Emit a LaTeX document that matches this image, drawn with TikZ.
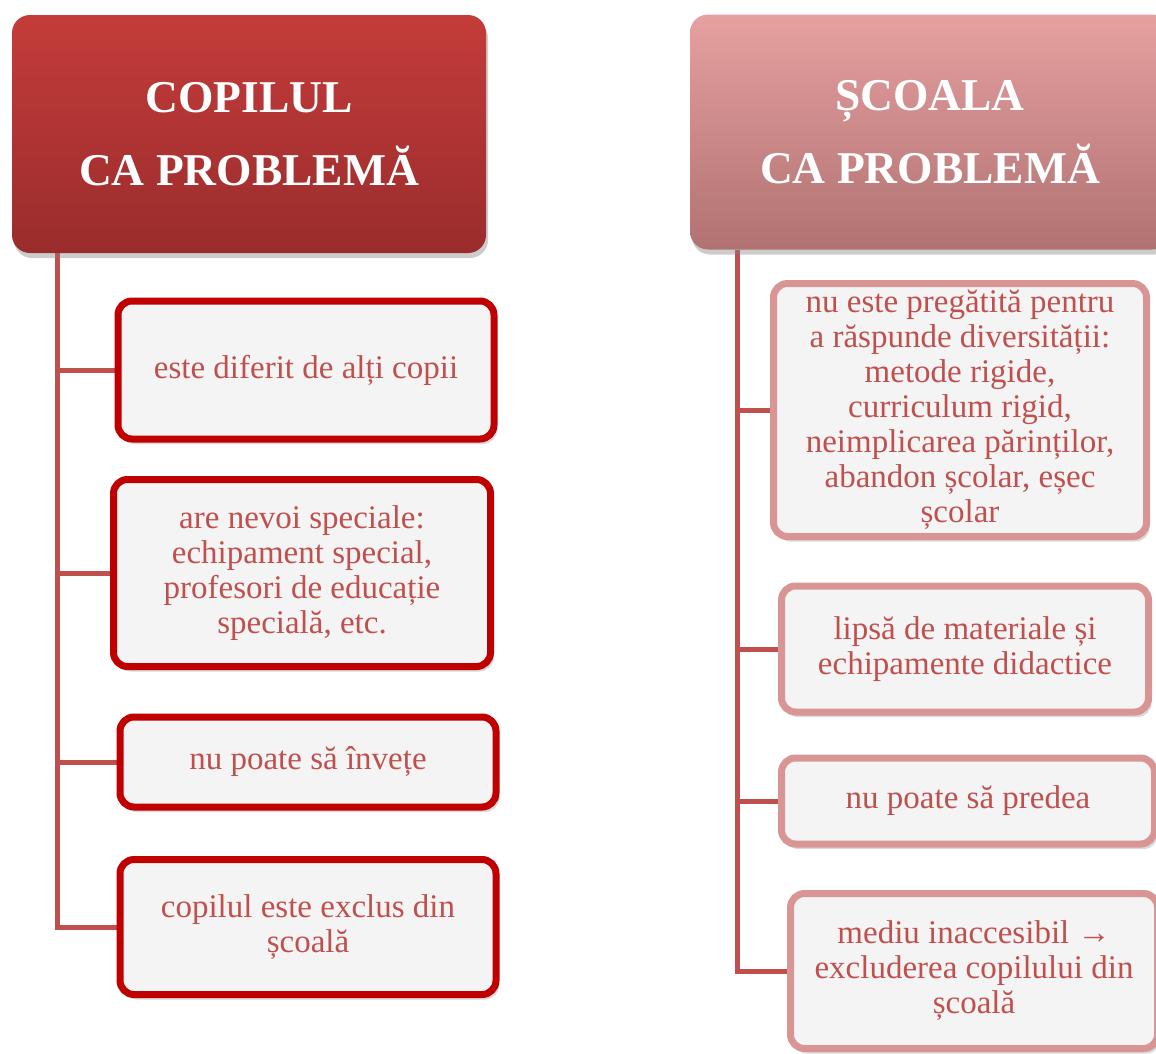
\documentclass[tikz,border=0pt]{standalone}
\usepackage{fontspec}
\setmainfont{Liberation Serif}
\usetikzlibrary{shadows,backgrounds}
\definecolor{darkred}{HTML}{C00000}
\definecolor{txtred}{HTML}{C0504D}
\definecolor{pinkline}{HTML}{D99594}
\definecolor{boxfill}{HTML}{F4F4F4}
\definecolor{childtop}{HTML}{C43C3A}
\definecolor{childbot}{HTML}{9A2C2C}
\definecolor{schooltop}{HTML}{E6A0A0}
\definecolor{schoolbot}{HTML}{B17272}
\tikzset{
  header/.style={rounded corners=18pt, align=center, text=white,
    font=\fontsize{45.5}{73}\selectfont\bfseries,
    drop shadow={opacity=.4, shadow xshift=2pt, shadow yshift=-5pt}},
  item/.style={rounded corners=14pt, line width=7pt, fill=boxfill, align=center,
    text=txtred, font=\fontsize{33}{35}\selectfont,
    drop shadow={opacity=.3, shadow xshift=3pt, shadow yshift=-5pt}},
  childitem/.style={item, draw=darkred},
  schoolitem/.style={item, draw=pinkline},
  trunk/.style={txtred, line width=5pt}
}
\begin{document}
\begin{tikzpicture}[x=1pt, y=-1pt, line join=round]
  \useasboundingbox (0,0) rectangle (1156,1053);
  \clip (0,0) rectangle (1156,1053);
  % titles
  \node[header, top color=childtop, bottom color=childbot, minimum width=474pt, minimum height=238pt]
    (lh) at (249,134) {COPILUL\\CA PROBLEMĂ};
  \node[header, top color=schooltop, bottom color=schoolbot, minimum width=480pt, minimum height=235pt]
    (rh) at (930,132) {ȘCOALA\\CA PROBLEMĂ};
  % left column
  \node[childitem, minimum width=376pt, minimum height=138pt] (l1) at (306,370) {este diferit de alți copii};
  \node[childitem, minimum width=377pt, minimum height=187pt] (l2) at (302,573)
    {are nevoi speciale:\\echipament special,\\profesori de educație\\specială, etc.};
  \node[childitem, minimum width=376pt, minimum height=90pt] (l3) at (308,762) {nu poate să învețe};
  \node[childitem, minimum width=376pt, minimum height=135pt] (l4) at (308,927) {copilul este exclus din\\școală};
  % right column
  \node[schoolitem, minimum width=373pt, minimum height=253pt] (r1) at (960,410)
    {nu este pregătită pentru\\a răspunde diversității:\\metode rigide,\\curriculum rigid,\\neimplicarea părinților,\\abandon școlar, eșec\\școlar};
  \node[schoolitem, minimum width=367pt, minimum height=126pt] (r2) at (965,649)
    {lipsă de materiale și\\echipamente didactice};
  \node[schoolitem, minimum width=373pt, minimum height=86pt] (r3) at (968,801) {nu poate să predea};
  \node[schoolitem, minimum width=367pt, minimum height=155pt] (r4) at (974,971)
    {mediu inaccesibil →\\excluderea copilului din\\școală};
  % connectors
  \begin{scope}[on background layer]
    \coordinate (lt) at ([xshift=46pt]lh.south west);
    \coordinate (rt) at ([xshift=48pt]rh.south west);
    \draw[trunk] (lt) |- (l4.west);
    \foreach \n in {l1,l2,l3} \draw[trunk] (lt |- \n.west) -- (\n.west);
    \draw[trunk] (rt) |- (r4.west);
    \foreach \n in {r1,r2,r3} \draw[trunk] (rt |- \n.west) -- (\n.west);
  \end{scope}
\end{tikzpicture}
\end{document}
